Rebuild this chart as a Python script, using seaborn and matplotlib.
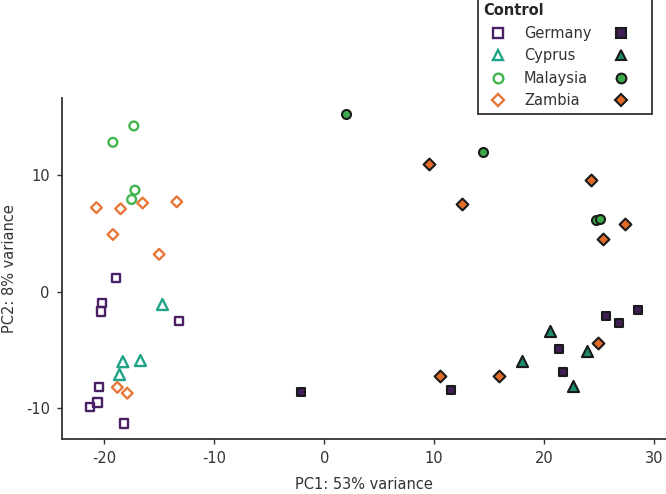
import pandas as pd
import seaborn as sns
import matplotlib.pyplot as plt
from matplotlib.lines import Line2D

countries = ['Germany', 'Cyprus', 'Malaysia', 'Zambia']

# control samples (open markers)
ctrl_germany_pc1 = [-18.9, -20.2, -20.3, -13.2, -20.5, -20.6, -21.3, -18.2]
ctrl_germany_pc2 = [1.2, -1.0, -1.7, -2.5, -8.2, -9.5, -9.9, -11.3]
ctrl_cyprus_pc1 = [-14.7, -18.3, -16.7, -18.6]
ctrl_cyprus_pc2 = [-1.1, -6.0, -5.9, -7.1]
ctrl_malaysia_pc1 = [-17.3, -19.2, -17.2, -17.5]
ctrl_malaysia_pc2 = [14.2, 12.8, 8.7, 7.9]
ctrl_zambia_pc1 = [-20.7, -18.5, -16.5, -13.4, -19.2, -15.0, -18.8, -17.9]
ctrl_zambia_pc2 = [7.2, 7.1, 7.6, 7.7, 4.9, 3.2, -8.2, -8.7]

# stress samples (filled markers)
str_germany_pc1 = [-2.1, 11.5, 21.3, 21.7, 25.6, 26.8, 28.5]
str_germany_pc2 = [-8.6, -8.4, -4.9, -6.9, -2.1, -2.7, -1.6]
str_cyprus_pc1 = [20.5, 18.0, 22.6, 23.9]
str_cyprus_pc2 = [-3.4, -5.9, -8.1, -5.1]
str_malaysia_pc1 = [2.0, 14.4, 24.7, 25.1]
str_malaysia_pc2 = [15.2, 12.0, 6.1, 6.2]
str_zambia_pc1 = [9.5, 12.5, 24.2, 27.3, 25.3, 10.5, 15.9, 24.9]
str_zambia_pc2 = [10.9, 7.5, 9.6, 5.8, 4.5, -7.2, -7.2, -4.4]

x_ticks = [-20, -10, 0, 10, 20, 30]
y_ticks = [-10, 0, 10]

colors = {'Germany': '#4b2165', 'Cyprus': '#21a387', 'Malaysia': '#41b64f', 'Zambia': '#e8773a'}
fills = {'Germany': '#3f1f55', 'Cyprus': '#1d8a6b', 'Malaysia': '#3aaa48', 'Zambia': '#e26b28'}
markers = {'Germany': 's', 'Cyprus': '^', 'Malaysia': 'o', 'Zambia': 'D'}
ctrl_size = {'Germany': 34, 'Cyprus': 62, 'Malaysia': 40, 'Zambia': 30}
str_size = {'Germany': 40, 'Cyprus': 64, 'Malaysia': 42, 'Zambia': 36}

rows = []
groups = [
    ('Control', 'Germany', ctrl_germany_pc1, ctrl_germany_pc2),
    ('Control', 'Cyprus', ctrl_cyprus_pc1, ctrl_cyprus_pc2),
    ('Control', 'Malaysia', ctrl_malaysia_pc1, ctrl_malaysia_pc2),
    ('Control', 'Zambia', ctrl_zambia_pc1, ctrl_zambia_pc2),
    ('Stress', 'Germany', str_germany_pc1, str_germany_pc2),
    ('Stress', 'Cyprus', str_cyprus_pc1, str_cyprus_pc2),
    ('Stress', 'Malaysia', str_malaysia_pc1, str_malaysia_pc2),
    ('Stress', 'Zambia', str_zambia_pc1, str_zambia_pc2),
]
for cond, country, xs, ys in groups:
    for a, b in zip(xs, ys):
        rows.append({'PC1': a, 'PC2': b, 'country': country, 'condition': cond})
df = pd.DataFrame(rows)

sns.set_style('ticks')
plt.rcParams['font.family'] = ['DejaVu Sans']
plt.rcParams['axes.unicode_minus'] = False

fig = plt.figure(figsize=(6.66, 4.94), dpi=100)
ax = fig.add_axes([62.3 / 666, 1 - 438.7 / 494, 1 - 62.3 / 666, (438.7 - 98.3) / 494])

for country in countries:
    d = df[(df.condition == 'Control') & (df.country == country)]
    sns.scatterplot(data=d, x='PC1', y='PC2', ax=ax, marker=markers[country],
                    s=ctrl_size[country], facecolor='none', edgecolor=colors[country],
                    linewidth=1.7, zorder=3)
for country in countries:
    d = df[(df.condition == 'Stress') & (df.country == country)]
    sns.scatterplot(data=d, x='PC1', y='PC2', ax=ax, marker=markers[country],
                    s=str_size[country], color=fills[country], edgecolor='#1a1a1a',
                    linewidth=1.5, zorder=4)

ax.set_xlim(-23.8, 31.06)
ax.set_ylim(-12.6, 16.57)
ax.set_xticks(x_ticks)
ax.set_yticks(y_ticks)
ax.tick_params(labelsize=10.5, colors='#333333', length=3.5, width=1, pad=5.5)
ax.set_xlabel('PC1: 53% variance', fontsize=10.5, color='#333333', labelpad=8)
ax.set_ylabel('PC2: 8% variance', fontsize=10.5, color='#333333', labelpad=6)
for sp in ['left', 'bottom']:
    ax.spines[sp].set_color('#333333')
    ax.spines[sp].set_linewidth(1.3)
sns.despine(ax=ax)

handles = []
for country in countries:
    handles.append(Line2D([], [], linestyle='none', marker=markers[country],
                          markersize=7 if markers[country] != 'D' else 6,
                          markerfacecolor='none', markeredgecolor=colors[country],
                          markeredgewidth=1.7, label=country))
for country in countries:
    handles.append(Line2D([], [], linestyle='none', marker=markers[country],
                          markersize=7 if markers[country] != 'D' else 6,
                          markerfacecolor=fills[country], markeredgecolor='#1a1a1a',
                          markeredgewidth=1.5, label=''))
leg = fig.legend(handles=handles, ncol=2, loc='upper right',
                 bbox_to_anchor=(652 / 666, 1.004), borderaxespad=0,
                 title='Control', alignment='left', fontsize=10.5,
                 title_fontproperties={'weight': 'bold', 'size': 10.5},
                 frameon=True, fancybox=False, framealpha=1, edgecolor='#333333',
                 labelspacing=0.52, handletextpad=0.8, columnspacing=1.0,
                 borderpad=0.35)
leg.get_frame().set_linewidth(1.3)
for t in leg.get_texts():
    t.set_color('#333333')
fig.text(619 / 666, 1 - 12 / 494, 'Stress', ha='center', va='center',
         fontsize=10.5, fontweight='bold', color='#1a1a1a')

fig.savefig('out.png', dpi=100)
